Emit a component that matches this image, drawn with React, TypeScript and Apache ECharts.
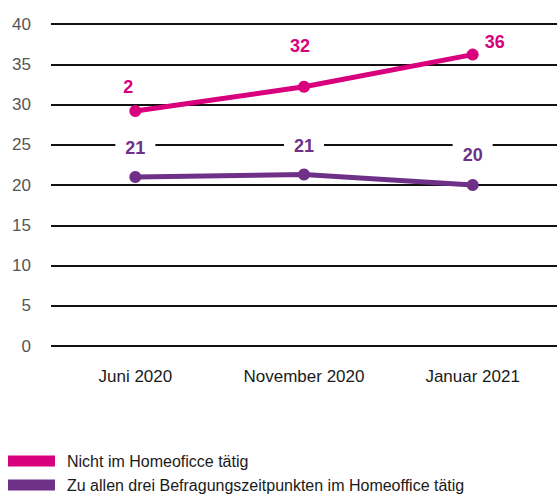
import React, { useEffect, useRef } from "react";
import * as echarts from "echarts";

const categories = ["Juni 2020", "November 2020", "Januar 2021"];
const pinkName = "Nicht im Homeoficce tätig";
const purpleName = "Zu allen drei Befragungszeitpunkten im Homeoffice tätig";
const pinkValues = [29.2, 32.2, 36.2];
const purpleValues = [21.0, 21.3, 20.0];
const pinkLabels = ["2", "32", "36"];
const purpleLabels = ["21", "21", "20"];
const yTicks = [0, 5, 10, 15, 20, 25, 30, 35, 40];

const PINK = "#d9007e";
const PURPLE = "#6f3187";
const FONT = "'Liberation Sans Narrow', 'Arial Narrow', 'Liberation Sans', sans-serif";

export default function App() {
  const ref = useRef<HTMLDivElement>(null);
  useEffect(() => {
    if (!ref.current) return;
    const chart = echarts.init(ref.current, undefined, { renderer: "svg" });
    const pinkOffsets = [[-7, -4], [-4, -21], [22, 7]];
    const legendBase = {
      orient: "horizontal",
      left: 8,
      itemWidth: 47,
      itemHeight: 11,
      icon: "rect",
      padding: 0,
      textStyle: { fontFamily: FONT, fontSize: 16, color: "#1a1a1a", padding: [0, 0, 0, 7] },
    };
    chart.setOption({
      animation: false,
      grid: { left: 51, right: 0, top: 24, bottom: 148, containLabel: false },
      legend: [
        { ...legendBase, top: 453, data: [pinkName] },
        { ...legendBase, top: 477, data: [purpleName] },
      ],
      xAxis: {
        type: "category",
        data: categories,
        boundaryGap: true,
        axisLine: { show: false },
        axisTick: { show: false },
        axisLabel: { margin: 22, fontFamily: FONT, fontSize: 17, color: "#1a1a1a" },
      },
      yAxis: {
        type: "value",
        min: yTicks[0],
        max: yTicks[yTicks.length - 1],
        interval: 5,
        axisLine: { show: false },
        axisTick: { show: false },
        splitLine: { lineStyle: { color: "#111", width: 2 } },
        axisLabel: { margin: 20, fontFamily: FONT, fontSize: 17, color: "#555" },
      },
      series: [
        {
          name: pinkName,
          type: "line",
          data: pinkValues.map((v, i) => ({
            value: v,
            label: {
              show: true,
              position: "top",
              offset: pinkOffsets[i],
              formatter: () => pinkLabels[i],
            },
          })),
          color: PINK,
          lineStyle: { width: 5, color: PINK },
          symbol: "circle",
          symbolSize: 12,
          itemStyle: { color: PINK },
          label: { fontFamily: FONT, fontSize: 18, fontWeight: "bold", color: PINK },
          z: 3,
        },
        {
          name: purpleName,
          type: "line",
          data: purpleValues.map((v, i) => ({
            value: v,
            label: {
              show: true,
              position: "top",
              offset: [0, i === 2 ? -8 : -7],
              formatter: () => purpleLabels[i],
            },
          })),
          color: PURPLE,
          lineStyle: { width: 5, color: PURPLE },
          symbol: "circle",
          symbolSize: 12,
          itemStyle: { color: PURPLE },
          label: {
            fontFamily: FONT,
            fontSize: 18,
            fontWeight: "bold",
            color: PURPLE,
            backgroundColor: "#fff",
            padding: [2, 10],
          },
          z: 3,
        },
      ],
    });
    return () => chart.dispose();
  }, []);
  return (
    <div
      ref={ref}
      style={{ position: "absolute", left: 0, top: 0, width: 557, height: 494, background: "#fff" }}
    />
  );
}
